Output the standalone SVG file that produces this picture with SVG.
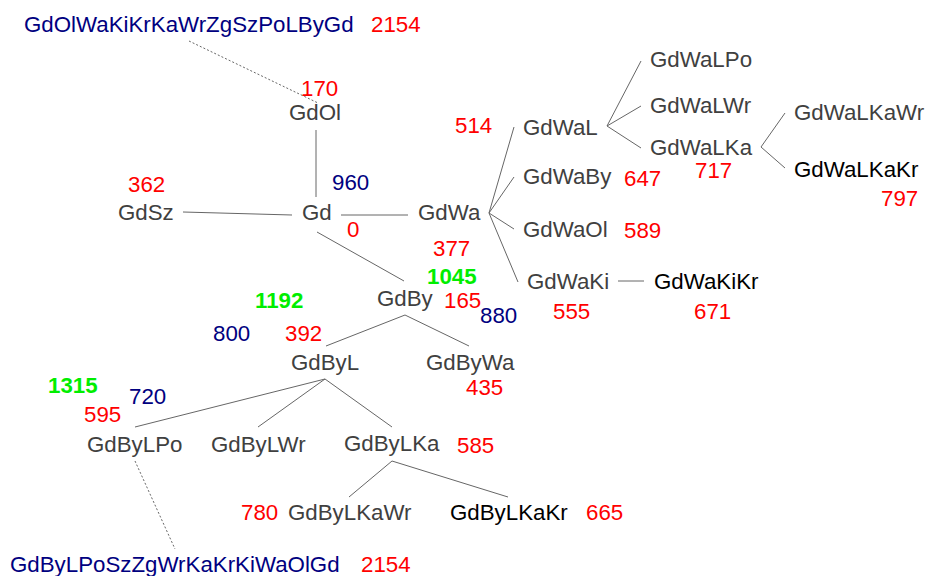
<svg xmlns="http://www.w3.org/2000/svg" width="925" height="576" viewBox="0 0 925 576">
<style>
text{font-family:"Liberation Sans",Arial,sans-serif;font-size:22.3px}
.n{fill:#404040}
.k{fill:#000}
.r{fill:#ff0000}
.b{fill:#000080}
.g{fill:#00ee00;font-weight:bold}
.e{stroke:#666;stroke-width:1;fill:none}
.d{stroke:#666;stroke-width:1;fill:none;stroke-dasharray:2,2}
</style>
<rect width="925" height="576" fill="#fff"/>
<g id="connectors">
<path class="d" d="M189,41 L318,103"/>
<path class="e" d="M316,130 L316,197"/>
<path class="e" d="M183,212 L292,215"/>
<path class="e" d="M341,215 L408,215"/>
<path class="e" d="M317,232 L404,281"/>
<path class="e" d="M514,127 L489,213 L514,177 M489,213 L514,229 M489,213 L518,282"/>
<path class="e" d="M641,61 L607,126 L641,106 M607,126 L641,148"/>
<path class="e" d="M785,113 L761,147 L785,168"/>
<path class="e" d="M618,281 L644,281"/>
<path class="e" d="M326,346 L405,315 L469,346"/>
<path class="e" d="M135,427 L325,379 L258,427 M325,379 L392,427"/>
<path class="e" d="M349,497 L392,461 L508,497"/>
<path class="d" d="M135,461 L175,549"/>
</g>
<g id="GdOlWaKiKrKaWrZgSzPoLByGd"><text class="b" x="24" y="32">GdOlWaKiKrKaWrZgSzPoLByGd</text><text class="r" x="371" y="32">2154</text></g>
<g id="GdOl"><text class="r" x="301" y="96">170</text><text class="n" x="289" y="120">GdOl</text></g>
<g id="GdSz"><text class="r" x="128" y="192">362</text><text class="n" x="118" y="220">GdSz</text></g>
<g id="Gd"><text class="n" x="302" y="220">Gd</text><text class="b" x="332" y="190">960</text><text class="r" x="347" y="237">0</text></g>
<g id="GdWa"><text class="n" x="418" y="220">GdWa</text><text class="r" x="433" y="256">377</text><text class="g" x="427" y="284">1045</text></g>
<g id="GdWaL"><text class="r" x="455" y="133">514</text><text class="n" x="523" y="135">GdWaL</text></g>
<g id="GdWaLPo"><text class="n" x="650" y="67">GdWaLPo</text></g>
<g id="GdWaLWr"><text class="n" x="650" y="113">GdWaLWr</text></g>
<g id="GdWaLKa"><text class="n" x="650" y="155">GdWaLKa</text><text class="r" x="695" y="178">717</text></g>
<g id="GdWaLKaWr"><text class="n" x="794" y="120">GdWaLKaWr</text></g>
<g id="GdWaLKaKr"><text class="k" x="794" y="177">GdWaLKaKr</text><text class="r" x="881" y="206">797</text></g>
<g id="GdWaBy"><text class="n" x="523" y="184">GdWaBy</text><text class="r" x="624" y="186">647</text></g>
<g id="GdWaOl"><text class="n" x="523" y="237">GdWaOl</text><text class="r" x="624" y="238">589</text></g>
<g id="GdWaKi"><text class="n" x="527" y="289">GdWaKi</text><text class="r" x="553" y="319">555</text></g>
<g id="GdWaKiKr"><text class="k" x="654" y="289">GdWaKiKr</text><text class="r" x="694" y="319">671</text></g>
<g id="GdBy"><text class="n" x="377" y="306">GdBy</text><text class="r" x="444" y="308">165</text><text class="b" x="480" y="323">880</text><text class="g" x="255" y="308">1192</text></g>
<g id="GdByL"><text class="b" x="213" y="341">800</text><text class="r" x="285" y="341">392</text><text class="n" x="291" y="370">GdByL</text></g>
<g id="GdByWa"><text class="n" x="426" y="370">GdByWa</text><text class="r" x="466" y="395">435</text></g>
<g id="GdByLPo"><text class="g" x="48" y="393">1315</text><text class="b" x="129" y="404">720</text><text class="r" x="84" y="422">595</text><text class="n" x="87" y="452">GdByLPo</text></g>
<g id="GdByLWr"><text class="n" x="211" y="452">GdByLWr</text></g>
<g id="GdByLKa"><text class="n" x="344" y="451">GdByLKa</text><text class="r" x="457" y="453">585</text></g>
<g id="GdByLKaWr"><text class="r" x="241" y="520">780</text><text class="n" x="288" y="520">GdByLKaWr</text></g>
<g id="GdByLKaKr"><text class="k" x="450" y="520">GdByLKaKr</text><text class="r" x="586" y="520">665</text></g>
<g id="GdByLPoSzZgWrKaKrKiWaOlGd"><text class="b" x="10" y="572">GdByLPoSzZgWrKaKrKiWaOlGd</text><text class="r" x="361" y="572">2154</text></g>
</svg>
